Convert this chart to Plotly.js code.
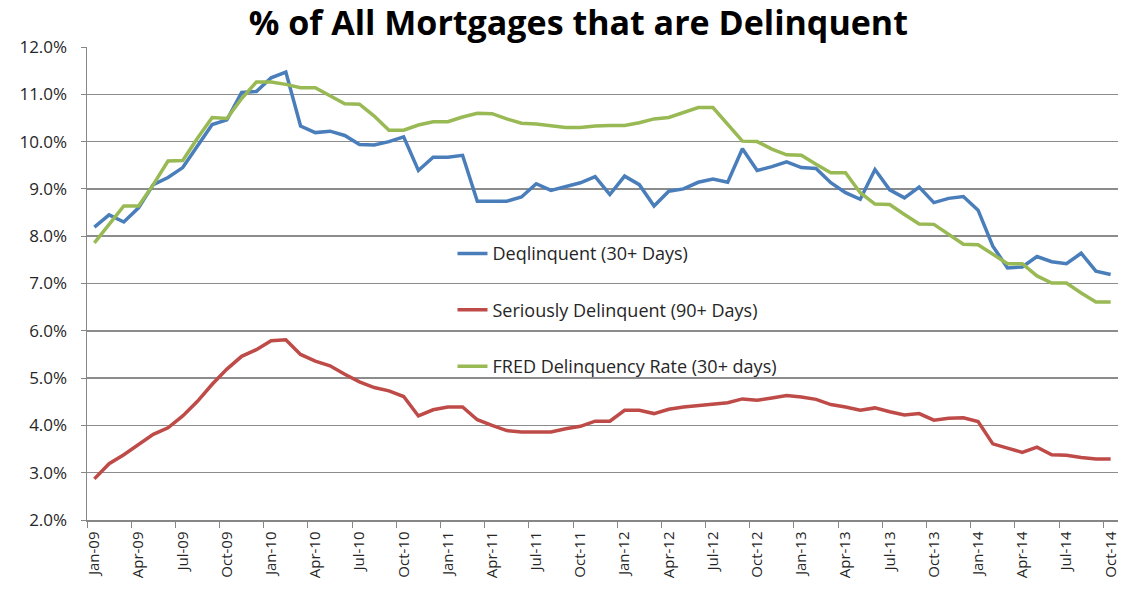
<!DOCTYPE html>
<html>
<head>
<meta charset="utf-8">
<script src="https://cdn.plot.ly/plotly-3.0.1.min.js"></script>
<style>html,body{margin:0;padding:0;background:#fff;}#chart{width:1123px;height:605px;}</style>
</head>
<body>
<div id="chart"></div>
<script>
const months = [
 "Jan-09","Feb-09","Mar-09","Apr-09","May-09","Jun-09","Jul-09","Aug-09","Sep-09","Oct-09","Nov-09","Dec-09",
 "Jan-10","Feb-10","Mar-10","Apr-10","May-10","Jun-10","Jul-10","Aug-10","Sep-10","Oct-10","Nov-10","Dec-10",
 "Jan-11","Feb-11","Mar-11","Apr-11","May-11","Jun-11","Jul-11","Aug-11","Sep-11","Oct-11","Nov-11","Dec-11",
 "Jan-12","Feb-12","Mar-12","Apr-12","May-12","Jun-12","Jul-12","Aug-12","Sep-12","Oct-12","Nov-12","Dec-12",
 "Jan-13","Feb-13","Mar-13","Apr-13","May-13","Jun-13","Jul-13","Aug-13","Sep-13","Oct-13","Nov-13","Dec-13",
 "Jan-14","Feb-14","Mar-14","Apr-14","May-14","Jun-14","Jul-14","Aug-14","Sep-14","Oct-14"
];

const delinquent30 = [
 8.19,8.45,8.30,8.60,9.09,9.24,9.45,9.91,10.36,10.46,11.04,11.06,
 11.35,11.47,10.33,10.19,10.22,10.13,9.94,9.93,10.00,10.10,9.39,9.67,
 9.67,9.71,8.74,8.74,8.74,8.83,9.11,8.97,9.05,9.13,9.26,8.88,
 9.27,9.09,8.64,8.95,9.00,9.14,9.21,9.14,9.85,9.39,9.47,9.57,
 9.45,9.43,9.13,8.92,8.78,9.41,8.98,8.81,9.04,8.71,8.80,8.84,
 8.55,7.79,7.33,7.35,7.57,7.46,7.42,7.64,7.26,7.19
];

const seriously90 = [
 2.87,3.19,3.38,3.59,3.81,3.95,4.20,4.51,4.87,5.19,5.46,5.60,
 5.79,5.81,5.50,5.36,5.26,5.08,4.92,4.80,4.73,4.61,4.20,4.33,
 4.39,4.39,4.12,4.00,3.89,3.86,3.86,3.86,3.93,3.98,4.09,4.09,
 4.32,4.32,4.25,4.34,4.39,4.42,4.46,4.48,4.56,4.53,4.58,4.63,
 4.60,4.55,4.44,4.39,4.32,4.37,4.29,4.22,4.25,4.11,4.15,4.16,
 4.08,3.61,3.52,3.43,3.54,3.38,3.37,3.32,3.29,3.29
];

const fred30 = [
 7.86,8.26,8.64,8.64,9.09,9.59,9.60,10.07,10.51,10.49,10.91,11.26,
 11.26,11.21,11.14,11.14,10.98,10.80,10.79,10.54,10.24,10.24,10.35,10.42,
 10.42,10.52,10.60,10.59,10.48,10.39,10.37,10.33,10.30,10.30,10.33,10.34,
 10.34,10.40,10.48,10.51,10.61,10.72,10.72,10.36,10.01,10.00,9.84,9.72,
 9.71,9.52,9.34,9.34,8.92,8.68,8.67,8.46,8.26,8.25,8.04,7.83,
 7.82,7.61,7.42,7.42,7.16,7.01,7.01,6.80,6.61,6.61
];

const seriesNames = [
 "Deqlinquent (30+ Days)",
 "Seriously Delinquent (90+ Days)",
 "FRED Delinquency Rate (30+ days)"
];
const seriesColors = ["#4A7EBB", "#BE4B48", "#98B954"];
const seriesValues = [delinquent30, seriously90, fred30];

const traces = seriesValues.map((vals, k) => ({
  type: "scatter",
  mode: "lines",
  x: months,
  y: vals,
  name: seriesNames[k],
  legendgroup: "g" + k,
  line: {color: seriesColors[k], width: 3.5},
  hoverinfo: "x+y+name"
}));

const baseFont = "'Open Sans', Lato, sans-serif";

const layout = {
  width: 1123,
  height: 605,
  margin: {l: 87, r: 5, t: 47, b: 85},
  paper_bgcolor: "#ffffff",
  plot_bgcolor: "#ffffff",
  font: {family: baseFont, color: "#262626"},
  title: {
    text: "<b>% of All Mortgages that are Delinquent</b>",
    font: {family: baseFont, size: 34, color: "#000000"},
    x: 0.515, xanchor: "center", y: 0.962, yanchor: "middle"
  },
  xaxis: {
    type: "category",
    range: [-0.5, 69.5],
    dtick: 3,
    tickson: "boundaries",
    ticks: "outside",
    ticklen: 6,
    tickcolor: "#868686",
    tickangle: -90,
    ticklabelstandoff: 4,
    tickfont: {family: baseFont, size: 15, color: "#262626"},
    showgrid: false,
    showline: true,
    linecolor: "#868686",
    linewidth: 1.5,
    zeroline: false,
    fixedrange: true
  },
  yaxis: {
    range: [2, 12],
    dtick: 1,
    tick0: 2,
    ticksuffix: "%",
    tickformat: ".1f",
    ticks: "outside",
    ticklen: 5,
    tickcolor: "#868686",
    ticklabelstandoff: 10,
    tickfont: {family: baseFont, size: 17, color: "#262626"},
    showgrid: true,
    gridcolor: "#8C8C8C",
    gridwidth: 1.5,
    showline: true,
    linecolor: "#868686",
    linewidth: 1.5,
    zeroline: false,
    fixedrange: true
  },
  showlegend: true,
  legend: {
    x: 0.3545, xanchor: "left",
    y: 0.602, yanchor: "top",
    bgcolor: "rgba(0,0,0,0)",
    borderwidth: 0,
    traceorder: "grouped",
    tracegroupgap: 30,
    font: {family: baseFont, size: 18, color: "#262626"}
  }
};

Plotly.newPlot("chart", traces, layout, {displayModeBar: false, staticPlot: true});
</script>
</body>
</html>
